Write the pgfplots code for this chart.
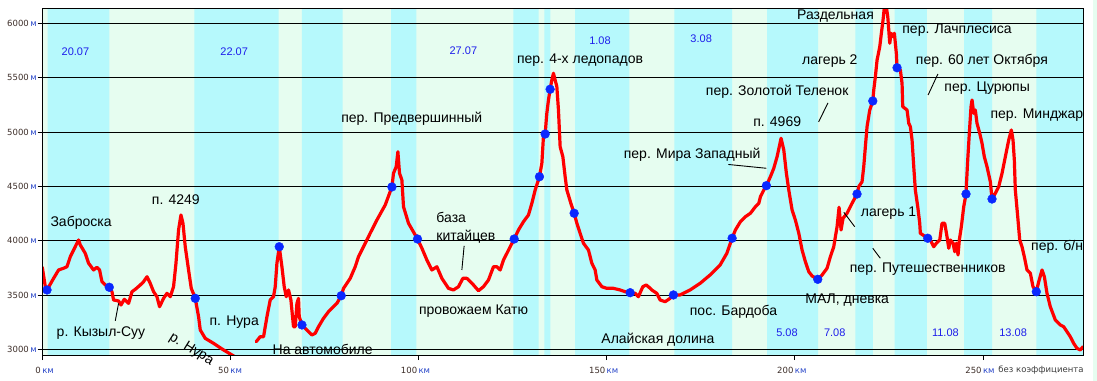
\documentclass[border=0pt]{standalone}
\usepackage{pgfplots}
\pgfplotsset{compat=1.18}
\usepackage{fontspec}
\setmainfont{Liberation Sans}
\newfontfamily\tickfont{DejaVu Sans}
\definecolor{bandcyan}{RGB}{182,249,252}
\definecolor{bandgreen}{RGB}{230,253,240}
\definecolor{datecol}{RGB}{30,30,235}
\definecolor{tnum}{RGB}{60,45,40}
\definecolor{tunit}{RGB}{40,70,200}
\definecolor{profred}{RGB}{255,0,0}
\definecolor{dotblue}{RGB}{10,40,255}
\newcommand\xtl[2]{\makebox[0pt][r]{\textcolor{tnum}{#1}\,}\makebox[0pt][l]{\textcolor{tunit}{#2}}}
\newcommand\ytl[1]{\textcolor{tnum}{#1}\,\textcolor{tunit}{м}}
\tikzset{lbl/.style={font=\fontsize{14bp}{18.4bp}\selectfont, inner sep=0pt, text=black},
         dt/.style={font=\fontsize{11bp}{13bp}\selectfont, inner sep=0pt, text=datecol},
         lead/.style={black, line width=0.9bp}}
\begin{document}
\begin{tikzpicture}
\useasboundingbox (-42.3bp,-25.5bp) rectangle (1054.7bp,355.5bp);
\fill[bandgreen] (1051bp,-25.5bp) rectangle (1054.7bp,355.5bp);
\begin{axis}[
  at={(0,0)}, anchor=south west,
  scale only axis, width=1041.4bp, height=347.2bp,
  xmin=0, xmax=276.75, ymin=2943, ymax=6138,
  axis background/.style={fill=bandgreen},
  axis on top,
  clip mode=individual,
  axis line style={black, line width=1bp},
  xtick={0,50,100,150,200,250},
  xticklabels={\xtl{0}{км},\xtl{50}{км},\xtl{100}{км},\xtl{150}{км},\xtl{200}{км},\xtl{250}{км}},
  ytick={3000,3500,4000,4500,5000,5500,6000},
  yticklabels={\ytl{3000},\ytl{3500},\ytl{4000},\ytl{4500},\ytl{5000},\ytl{5500},\ytl{6000}},
  tick align=outside, major tick length=4.6bp,
  tick style={black, line width=0.9bp},
  xtick pos=left, ytick pos=left,
  ticklabel style={font=\tickfont\fontsize{8.5bp}{10bp}\selectfont, inner sep=0pt},
  yticklabel style={anchor=east, xshift=-0.8bp},
  xticklabel style={anchor=north, yshift=-7bp},
]
% day bands
\addplot[fill=bandcyan, draw=none, forget plot] coordinates {
(0,2943) (1.4,2943) (1.4,6138) (17.8,6138) (17.8,2943)
(40.4,2943) (40.4,6138) (62.8,6138) (62.8,2943)
(69.0,2943) (69.0,6138) (79.8,6138) (79.8,2943)
(92.7,2943) (92.7,6138) (99.4,6138) (99.4,2943)
(125.2,2943) (125.2,6138) (131.9,6138) (131.9,2943)
(133.4,2943) (133.4,6138) (135.0,6138) (135.0,2943)
(141.6,2943) (141.6,6138) (156.0,6138) (156.0,2943)
(168.0,2943) (168.0,6138) (183.3,6138) (183.3,2943)
(192.6,2943) (192.6,6138) (206.2,6138) (206.2,2943)
(216.1,2943) (216.1,6138) (220.7,6138) (220.7,2943)
(226.5,2943) (226.5,6138) (235.1,6138) (235.1,2943)
(245.0,2943) (245.0,6138) (252.4,6138) (252.4,2943)
(264.2,2943) (264.2,6138) (276.75,6138) (276.75,2943)
};
% grid lines
\foreach \g in {3000,3500,4000,4500,5000,5500,6000}{
  \addplot[black, line width=0.9bp, forget plot] coordinates {(0,\g) (276.75,\g)};
}
% profile
\addplot[profred, line width=3.2bp, line join=round, line cap=round] coordinates {
(0,3755) (0.8,3576) (1.25,3546) (3.0,3653) (4.33,3730) (5.66,3746) (6.56,3760) (7.44,3852)
(8.32,3914) (9.64,4006) (10.1,3960) (11.42,3883) (12.3,3792) (13.63,3730) (14.53,3755)
(15.22,3730) (15.86,3622) (16.74,3592) (17.8,3571) (18.52,3530) (18.94,3454) (20.27,3445)
(20.91,3408) (21.79,3460) (22.93,3423) (23.83,3530) (24.71,3552) (26.04,3592) (26.91,3622)
(27.82,3668) (28.69,3607) (29.57,3530) (30.47,3484) (31.16,3392) (32.23,3469) (33.13,3515)
(34.01,3484) (34.88,3576) (35.52,3791) (36.21,4098) (36.85,4236) (37.38,4160) (37.99,3944)
(38.87,3730) (39.59,3561) (40.65,3469) (41.53,3300) (41.98,3178) (43.3,3101) (45.51,3055)
(48.17,2994) (50.4,2948) (51.5,2925)
};
\addplot[profred, line width=3.2bp, line join=round, line cap=round] coordinates {
(56.85,3070) (57.9,3116) (58.8,3116) (59.7,3300) (60.57,3454) (61.45,3484) (61.9,3576)
(62.35,3791) (62.97,3944) (63.68,3760) (64.29,3576) (64.83,3484) (65.44,3546) (66.07,3454)
(66.76,3208) (67.22,3208) (67.67,3423) (68.09,3469) (68.28,3300) (69.0,3224) (70.33,3178)
(71.65,3132) (72.53,3147) (73.41,3208) (74.73,3285) (76.06,3346) (77.39,3392) (78.29,3423)
(79.44,3493) (80.05,3561) (80.95,3607) (81.83,3653) (83.16,3760) (84.03,3852) (84.48,3883)
(86.26,4006) (87.14,4068) (88.92,4190) (91.13,4328) (92.91,4494) (93.33,4620) (94.05,4680)
(94.5,4818) (94.93,4620) (95.56,4558) (95.99,4312) (97.32,4160) (99.71,4015) (100.88,3930)
(102.2,3822) (103.53,3730) (104.86,3760) (106.19,3653) (107.94,3561) (109.27,3546)
(110.6,3576) (111.77,3653) (112.83,3653) (114.59,3592) (115.91,3539) (117.24,3576)
(118.57,3638) (119.9,3760) (120.8,3760) (121.68,3730) (122.56,3822) (123.46,3883)
(124.34,3944) (125.4,4015) (126.54,4098) (127.87,4174) (129.2,4236) (130.1,4344)
(130.98,4466) (132.12,4588) (132.76,4712) (133.18,4957) (133.63,4981) (134.08,5172)
(134.51,5294) (134.96,5393) (135.41,5478) (135.84,5540) (136.29,5478) (136.74,5417)
(137.17,5202) (137.62,4864) (138.34,4772) (138.95,4588) (139.4,4466) (140.46,4344)
(141.34,4252) (142.06,4160) (142.93,4068) (143.81,3976) (145.14,3914) (146.04,3792)
(146.92,3730) (147.37,3638) (148.7,3576) (150.03,3561) (151.78,3561) (153.56,3546)
(154.89,3530) (156.22,3521) (157.55,3515) (158.42,3484) (159.59,3576) (160.47,3592)
(161.08,3576) (161.98,3546) (163.31,3515) (164.19,3454) (165.52,3438) (166.84,3469)
(167.72,3500) (169.5,3500) (172.16,3546) (174.81,3607) (177.47,3684) (180.13,3776)
(181.91,3883) (183.32,4022) (184.19,4098) (185.52,4174) (186.85,4220) (188.18,4252)
(189.51,4312) (190.41,4344) (190.84,4404) (191.74,4466) (192.43,4506) (193.49,4588)
(194.39,4666) (195.27,4772) (196.33,4942) (197.05,4834) (197.74,4620) (198.38,4466)
(199.26,4282) (200.13,4190) (201.04,4068) (201.91,3914) (202.79,3806) (203.69,3714)
(204.57,3675) (206.08,3644) (207.23,3684) (208.55,3746) (209.43,3852) (210.33,3944)
(210.76,4036) (211.21,4128) (211.74,4307) (212.27,4098) (212.8,4206) (213.87,4252)
(215.2,4344) (216.52,4429) (216.97,4496) (217.85,4542) (218.3,4680) (218.73,4864)
(219.18,5049) (219.9,5202) (220.7,5285) (220.96,5386) (221.39,5509) (221.84,5662)
(222.56,5785) (222.98,5908) (223.43,6030) (223.78,6150) (224.31,6150) (224.68,6061)
(224.95,5938) (225.21,5816) (225.56,5908) (226.09,5877) (226.44,5908) (226.7,5816)
(226.97,5720) (227.15,5591) (228.03,5570) (228.48,5448) (228.66,5233) (229.81,5202)
(230.26,5080) (230.69,5049) (231.14,4926) (231.59,4680) (232.01,4466) (232.65,4312)
(233.18,4160) (233.34,4068) (235.3,4022) (236.0,4006) (236.9,3944) (237.59,3976)
(238.5,4006) (239.1,4160) (239.82,4160) (240.43,4036) (240.89,3930) (241.31,4006)
(242.03,3976) (242.48,3898) (242.9,3976) (243.36,3868) (243.7,4006) (244.24,4128)
(244.87,4312) (245.48,4429) (245.56,4496) (245.93,4742) (246.36,4988) (246.81,5233)
(247.08,5294) (247.53,5172) (247.95,5202) (248.4,5080) (249.12,4988) (249.73,4896)
(250.34,4772) (251.06,4680) (251.94,4542) (252.39,4383) (253.27,4436) (254.17,4496)
(255.05,4620) (255.93,4772) (256.83,4926) (257.52,5018) (257.97,4926) (258.32,4742)
(258.58,4466) (259.22,4220) (259.75,4006) (260.36,3944) (260.97,3852) (261.69,3730)
(262.57,3700) (263.28,3576) (264.16,3530) (264.8,3622) (265.68,3730) (266.3,3668)
(267.0,3515) (267.88,3392) (269.21,3270) (270.54,3224) (271.44,3208) (272.32,3162)
(273.19,3116) (274.09,3055) (274.97,3009) (275.85,2994) (276.57,3024)
};
% day-end points
\addplot[only marks, mark=*, mark size=4.4bp, mark options={draw=dotblue, fill=dotblue}] coordinates {
(1.25,3546) (17.8,3571) (40.65,3469) (62.97,3944) (69.0,3224) (79.44,3493) (92.91,4494)
(99.71,4015) (125.4,4015) (132.12,4588) (133.63,4981) (134.96,5393) (141.34,4252)
(156.22,3521) (167.72,3500) (183.32,4022) (192.43,4506) (206.08,3644) (216.52,4429)
(220.7,5285) (227.15,5591) (235.3,4022) (245.48,4429) (252.39,4383) (264.16,3530)
};
% leader lines
\draw[lead] (axis cs:20.27,3423) -- (axis cs:19.4,3263);
\draw[lead] (axis cs:112.1,3951) -- (axis cs:111.5,3730);
\draw[lead] (axis cs:182.3,4701) -- (axis cs:192.4,4666);
\draw[lead] (axis cs:208.8,5267) -- (axis cs:206.3,5093);
\draw[lead] (axis cs:238.0,5533) -- (axis cs:235.4,5340);
\draw[lead] (axis cs:213.0,4261) -- (axis cs:215.9,4128);
\draw[lead] (axis cs:220.7,3930) -- (axis cs:222.7,3838);
% date labels
\node[dt] at (axis cs:8.8,5736) {20.07};
\node[dt] at (axis cs:51.0,5736) {22.07};
\node[dt] at (axis cs:111.9,5745) {27.07};
\node[dt] at (axis cs:148.2,5837) {1.08};
\node[dt] at (axis cs:175.1,5856) {3.08};
\node[dt] at (axis cs:197.9,3157) {5.08};
\node[dt] at (axis cs:210.6,3157) {7.08};
\node[dt] at (axis cs:240.0,3157) {11.08};
\node[dt] at (axis cs:258.0,3157) {13.08};
% place labels
\node[lbl] at (axis cs:10.3,4160) {Заброска};
\node[lbl] at (axis cs:35.5,4380) {п. 4249};
\node[lbl] at (axis cs:15.6,3153) {р. Кызыл-Суу};
\node[lbl, rotate=-32] at (axis cs:39.6,3000) {р. Нура};
\node[lbl] at (axis cs:51.0,3254) {п. Нура};
\node[lbl] at (axis cs:74.5,3000) {На автомобиле};
\node[lbl] at (axis cs:98.2,5119) {пер. Предвершинный};
\node[lbl, anchor=west, align=left] at (axis cs:104.7,4121) {база\\китайцев};
\node[lbl] at (axis cs:114.6,3353) {провожаем Катю};
\node[lbl] at (axis cs:142.9,5662) {пер. 4-х ледопадов};
\node[lbl] at (axis cs:163.6,3086) {Алайская долина};
\node[lbl] at (axis cs:183.7,3343) {пос. Бардоба};
\node[lbl] at (axis cs:172.7,4788) {пер. Мира Западный};
\node[lbl] at (axis cs:195.3,5095) {п. 4969};
\node[lbl] at (axis cs:195.3,5368) {пер. Золотой Теленок};
\node[lbl] at (axis cs:209.3,5656) {лагерь 2};
\node[lbl] at (axis cs:210.8,6070) {Раздельная};
\node[lbl] at (axis cs:243.1,5938) {пер. Лачплесиса};
\node[lbl] at (axis cs:249.7,5656) {пер. 60 лет Октября};
\node[lbl] at (axis cs:251.1,5402) {пер. Цурюпы};
\node[lbl] at (axis cs:264.3,5156) {пер. Минджар};
\node[lbl] at (axis cs:224.9,4257) {лагерь 1};
\node[lbl] at (axis cs:235.3,3736) {пер. Путешественников};
\node[lbl] at (axis cs:269.7,3944) {пер. б/н};
\node[lbl] at (axis cs:213.9,3454) {МАЛ, дневка};
\node[font=\tickfont\fontsize{8.5bp}{10bp}\selectfont, inner sep=0pt, anchor=east, text={rgb,255:red,60;green,60;blue,60}] at (axis cs:276.75,2812) {без коэффициента};
\end{axis}
\end{tikzpicture}
\end{document}
